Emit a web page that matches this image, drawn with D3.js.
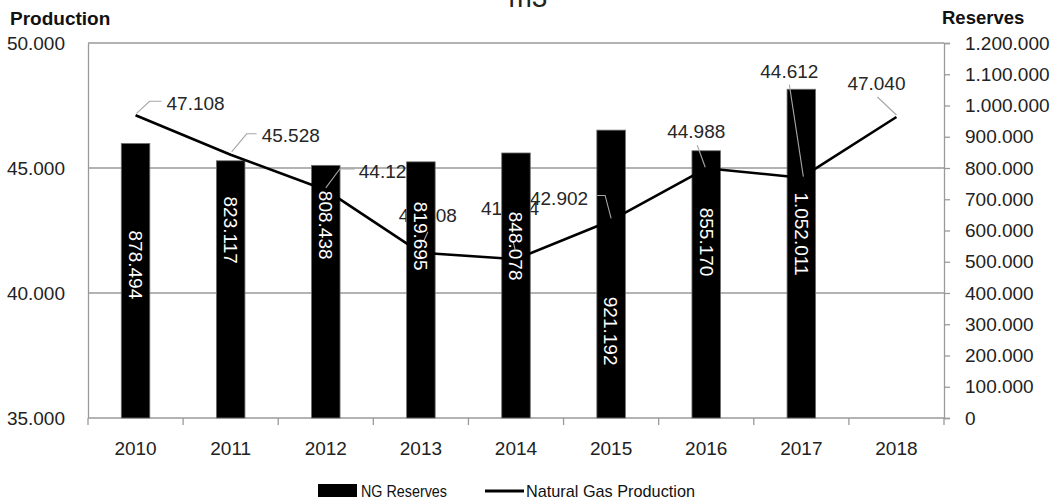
<!DOCTYPE html>
<html>
<head>
<meta charset="utf-8">
<script src="https://cdn.jsdelivr.net/npm/d3@7/dist/d3.min.js"></script>
<style>
  html, body { margin: 0; padding: 0; background: #fff; }
  svg { display: block; font-family: "Liberation Sans", Arial, sans-serif; }
</style>
</head>
<body>
<svg id="chart" width="1055" height="503"></svg>
<script>
// Natural gas: proven reserves (bars, right axis) and yearly production (line, left axis)
const years = ["2010", "2011", "2012", "2013", "2014", "2015", "2016", "2017", "2018"];
const reserveYears = ["2010", "2011", "2012", "2013", "2014", "2015", "2016", "2017"];
const reserves = [878494, 823117, 808438, 819695, 848078, 921192, 855170, 1052011];
const production = [47108, 45528, 44123, 41608, 41354, 42902, 44988, 44612, 47040];
const productionTicks = [35000, 40000, 45000, 50000];
const reserveTicks = d3.range(0, 1200001, 100000);

// Label placement (layout only): where each reserve label is centred, in reserve units,
// and each production label's offset from its point, with its leader path.
const reserveLabelAt = [490000, 601000, 617000, 582000, 550000, 278000, 563000, 589000];
const productionLabels = [
  { dx: 31, dy: -12, anchor: "start", leader: [[1, -2], [14, -14], [26, -14]] },
  { dx: 31, dy: -19, anchor: "start", leader: [[1, -3], [16, -21], [26, -21]] },
  { dx: 33, dy: -19, anchor: "start", leader: [[0, -2], [14, -21], [29, -21]] },
  { dx: 7, dy: -37, anchor: "middle", leader: [[7, -21], [3, -12]] },
  { dx: -6, dy: -51, anchor: "middle", leader: [[-3, -18], [-1, -10]] },
  { dx: -23, dy: -22, anchor: "end", leader: [[-14, -25], [-6, -25], [0, -2]] },
  { dx: -10, dy: -37, anchor: "middle", leader: [[-9, -23], [-1, -1]] },
  { dx: -12, dy: -106, anchor: "middle", leader: [[-12, -93], [2, -1]] },
  { dx: -20, dy: -34, anchor: "middle", leader: [[-19, -20], [0, -2]] }
];

const locale = d3.formatLocale({ decimal: ",", thousands: ".", grouping: [3] });
const fmt = locale.format(",d");

const svg = d3.select("#chart");
const plotLeft = 88, plotRight = 944, plotTop = 43, plotBottom = 418;
const grey = "#9a9a9a";
const fontSize = 19;

const x = d3.scaleBand().domain(years).range([plotLeft, plotRight]);
const yProd = d3.scaleLinear().domain([35000, 50000]).range([plotBottom, plotTop]);
const yRes = d3.scaleLinear().domain([0, 1200000]).range([plotBottom, plotTop]);
const cx = d => x(d) + x.bandwidth() / 2;

// Title (unit line, its upper part runs past the top edge)
svg.append("text").attr("x", 528).attr("y", 6.5).attr("text-anchor", "middle")
  .attr("font-size", 28).attr("fill", "#222").text("m3");

// Axis titles
svg.append("text").attr("x", 10).attr("y", 25).attr("font-size", 19).attr("font-weight", "bold")
  .attr("fill", "#111").text("Production");
svg.append("text").attr("x", 942).attr("y", 24).attr("font-size", 18.5).attr("font-weight", "bold")
  .attr("fill", "#111").text("Reserves");

// Horizontal gridlines on production ticks
svg.append("g").selectAll("line").data(productionTicks.filter(t => t > 35000)).join("line")
  .attr("x1", plotLeft).attr("x2", plotRight)
  .attr("y1", d => yProd(d)).attr("y2", d => yProd(d))
  .attr("stroke", grey).attr("stroke-width", 1.3);

// Left axis
const gL = svg.append("g").attr("transform", `translate(${plotLeft},0)`)
  .call(d3.axisLeft(yProd).tickValues(productionTicks).tickSize(0).tickPadding(23).tickFormat(fmt));
gL.select(".domain").attr("stroke", grey).attr("stroke-width", 1.3);
gL.selectAll("text").attr("font-size", fontSize).attr("fill", "#222").attr("font-family", null);

// Right axis
const gR = svg.append("g").attr("transform", `translate(${plotRight},0)`)
  .call(d3.axisRight(yRes).tickValues(reserveTicks).tickSize(6).tickPadding(15).tickFormat(fmt));
gR.select(".domain").attr("stroke", grey).attr("stroke-width", 1.3);
gR.selectAll(".tick line").attr("stroke", grey).attr("stroke-width", 1.3);
gR.selectAll("text").attr("font-size", fontSize).attr("fill", "#222").attr("font-family", null);

// Bottom axis: ticks on category boundaries
const gB = svg.append("g").attr("transform", `translate(0,${plotBottom})`)
  .call(d3.axisBottom(x).tickSize(0).tickPadding(24));
gB.select(".domain").remove();
gB.selectAll("text").attr("font-size", fontSize).attr("fill", "#222").attr("font-family", null);
svg.append("line").attr("x1", plotLeft).attr("x2", plotRight).attr("y1", plotBottom).attr("y2", plotBottom)
  .attr("stroke", grey).attr("stroke-width", 1.3);
svg.append("g").selectAll("line").data(d3.range(years.length + 1)).join("line")
  .attr("x1", i => plotLeft + i * x.bandwidth()).attr("x2", i => plotLeft + i * x.bandwidth())
  .attr("y1", plotBottom).attr("y2", plotBottom + 7)
  .attr("stroke", grey).attr("stroke-width", 1.3);

// Production value labels (sit beneath the bars)
const prodPts = production.map((v, i) => ({ year: years[i], v, px: cx(years[i]), py: yProd(v), lab: productionLabels[i] }));
svg.append("g").selectAll("text").data(prodPts).join("text")
  .attr("x", d => d.px + d.lab.dx).attr("y", d => d.py + d.lab.dy).attr("dy", "0.35em")
  .attr("text-anchor", d => d.lab.anchor)
  .attr("font-size", fontSize).attr("fill", "#262626")
  .text(d => fmt(d.v));

// Reserve bars
const barW = x.bandwidth() * 0.3;
svg.append("g").selectAll("rect").data(reserveYears.map((y, i) => ({ y, v: reserves[i] }))).join("rect")
  .attr("x", d => cx(d.y) - barW / 2).attr("width", barW)
  .attr("y", d => yRes(d.v)).attr("height", d => yRes(0) - yRes(d.v))
  .attr("fill", "#000").attr("stroke", "#6f6f6f").attr("stroke-width", 0.8);

// Production line
svg.append("path").datum(prodPts)
  .attr("d", d3.line().x(d => d.px).y(d => d.py))
  .attr("fill", "none").attr("stroke", "#000").attr("stroke-width", 2.6).attr("stroke-linejoin", "round");

// Leader lines for production labels
svg.append("g").selectAll("path").data(prodPts).join("path")
  .attr("d", d => d3.line()(d.lab.leader.map(p => [d.px + p[0], d.py + p[1]])))
  .attr("fill", "none").attr("stroke", "#a6a6a6").attr("stroke-width", 1.1);

// Reserve value labels, rotated inside the bars
svg.append("g").selectAll("text").data(reserveYears.map((y, i) => ({ y, v: reserves[i], at: reserveLabelAt[i] }))).join("text")
  .attr("transform", d => `translate(${cx(d.y)},${yRes(d.at)}) rotate(90)`)
  .attr("text-anchor", "middle").attr("dy", "0.35em")
  .attr("font-size", fontSize).attr("fill", "#fff")
  .text(d => fmt(d.v));

// Legend
const lg = svg.append("g");
lg.append("rect").attr("x", 318).attr("y", 484).attr("width", 39).attr("height", 13).attr("fill", "#000");
lg.append("text").attr("x", 361).attr("y", 491).attr("dy", "0.35em").attr("font-size", 17).attr("fill", "#111")
  .attr("textLength", 86).attr("lengthAdjust", "spacingAndGlyphs").text("NG Reserves");
lg.append("line").attr("x1", 485).attr("x2", 524).attr("y1", 491).attr("y2", 491).attr("stroke", "#000").attr("stroke-width", 3);
lg.append("text").attr("x", 526).attr("y", 491).attr("dy", "0.35em").attr("font-size", 17).attr("fill", "#111")
  .attr("textLength", 169).attr("lengthAdjust", "spacingAndGlyphs").text("Natural Gas Production");
</script>
</body>
</html>
